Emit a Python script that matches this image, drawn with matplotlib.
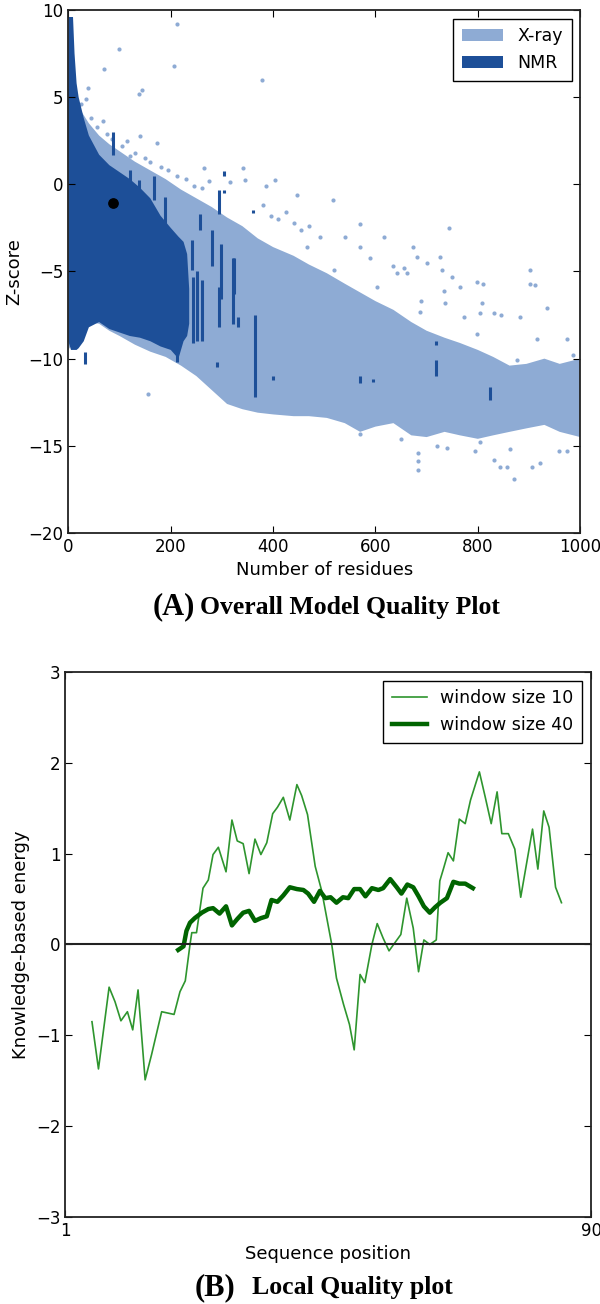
import matplotlib.pyplot as plt
import numpy as np

# ---- panel A: model quality (Z-score vs number of residues) ----
# dense X-ray cloud, read as upper / lower edges
xray_x = [0, 10, 25, 40, 60, 80, 100, 130, 160, 190, 220, 250, 280, 310, 340, 370,
          400, 440, 470, 505, 540, 570, 600, 635, 670, 700, 735, 765, 800, 830, 862,
          895, 930, 960, 1000]
xray_hi = [5.5, 5.0, 4.2, 3.5, 2.8, 2.3, 1.9, 1.3, 0.8, 0.3, -0.3, -0.8, -1.3, -1.9,
           -2.4, -3.1, -3.6, -4.1, -4.6, -5.1, -5.7, -6.2, -6.7, -7.2, -7.9, -8.4,
           -8.8, -9.1, -9.5, -9.9, -10.4, -10.3, -10.0, -10.3, -10.0]
xray_lo = [-9.5, -9.0, -8.4, -7.9, -8.0, -8.4, -8.7, -9.2, -9.6, -9.9, -10.4, -11.0,
           -11.8, -12.6, -12.9, -13.1, -13.2, -13.3, -13.3, -13.4, -13.7, -14.2, -13.9,
           -13.7, -14.4, -14.5, -14.2, -14.4, -14.6, -14.4, -14.2, -14.0, -13.8, -14.2,
           -14.5]

# scattered X-ray entries outside the dense cloud
xray_px = [213, 99, 69, 207, 379, 39, 143, 138, 35, 67, 140, 174, 120, 264, 342, 213,
           275, 315, 345, 386, 404, 446, 517, 569, 617, 674, 743, 799, 808, 831, 700,
           681, 642, 655, 726, 749, 902, 902, 911, 935, 811, 845,
           380, 395, 410, 425, 440, 455, 470, 492, 466, 518, 541, 570, 590, 603, 635,
           661, 688, 687, 730, 733, 736, 765, 772, 805, 798, 883, 915, 974, 876, 985,
           25, 45, 55, 75, 85, 105, 115, 130, 150, 160, 180, 195, 230, 245, 262,
           156, 684, 684, 684, 870, 906, 922, 844, 958, 974, 831, 857, 863, 795, 739,
           570, 805, 720, 650]
xray_pz = [9.2, 7.75, 6.6, 6.8, 6.0, 5.5, 5.4, 5.2, 4.9, 3.65, 2.8, 2.4, 1.6, 0.96,
           0.96, 0.5, 0.2, 0.15, 0.25, -0.1, 0.25, -0.6, -0.9, -2.3, -3.0, -3.6, -2.5,
           -5.6, -6.8, -7.4, -4.5, -4.15, -5.1, -4.8, -4.15, -5.3, -4.9, -5.7, -5.8,
           -7.1, -5.7, -7.5,
           -1.2, -1.8, -2.0, -1.6, -2.2, -2.6, -2.4, -3.0, -3.6, -4.9, -3.0, -3.6,
           -4.25, -5.9, -4.7, -5.1, -6.7, -7.3, -4.9, -6.1, -6.8, -5.9, -7.6, -7.4,
           -8.6, -7.6, -8.9, -8.9, -10.1, -9.8,
           4.6, 3.8, 3.3, 2.9, 2.6, 2.2, 2.5, 1.8, 1.5, 1.3, 1.0, 0.8, 0.3, -0.1, -0.2,
           -12.0, -15.4, -15.9, -16.4, -16.9, -16.2, -16.0, -16.2, -15.3, -15.3, -15.8,
           -16.2, -15.2, -15.3, -15.1, -14.3, -14.8, -15.0, -14.6]

# dense NMR cloud
nmr_x = [0, 5, 9, 12, 16, 20, 30, 40, 60, 80, 100, 120, 140, 160, 180, 200, 215, 225,
         232, 236]
nmr_hi = [9.6, 9.6, 9.6, 7.5, 5.8, 5.0, 3.8, 2.8, 1.7, 1.1, 0.7, 0.3, -0.2, -0.8,
          -1.8, -2.5, -3.0, -3.3, -4.0, -6.0]
nmr_lo = [-9.0, -9.5, -9.5, -9.5, -9.5, -9.4, -9.0, -8.2, -7.9, -8.3, -8.5, -8.7, -8.8,
          -9.0, -9.3, -9.5, -10.0, -9.0, -8.7, -8.0]

# NMR columns beyond the dense cloud: x, top, bottom
nmr_sx = [88, 120, 138, 167, 189, 257, 295, 298, 321, 212, 244, 252, 262, 241, 280,
          295, 323, 332, 365, 33, 290, 400, 569, 596, 718, 718, 823, 305, 305, 360]
nmr_st = [3.0, 0.8, 0.25, 0.5, -0.7, -1.7, -0.3, -3.4, -4.2, -6.6, -5.3, -5.0, -5.5,
          -3.2, -2.6, -5.9, -4.2, -7.6, -7.5, -9.6, -10.2, -11.0, -11.0, -11.15,
          -10.1, -9.0, -11.6, 0.75, -0.3, -1.45]
nmr_sb = [1.7, -0.1, -0.9, -0.9, -2.6, -2.6, -1.7, -6.6, -8.0, -10.2, -9.1, -9.0,
          -9.0, -4.9, -4.7, -8.2, -6.3, -8.2, -12.2, -10.3, -10.5, -11.25, -11.4,
          -11.35, -11.0, -9.2, -12.4, 0.5, -0.5, -1.65]

model_n = [88]
model_z = [-1.06]

# ---- panel B: local quality ----
w10_pos = [5.5, 6.6, 8.4, 9.4, 10.4, 11.5, 12.4, 13.3, 14.5, 15.6, 17.3, 19.4, 20.4,
           21.3, 22.1, 22.4, 23.2, 24.3, 25.2, 26.0, 26.9, 28.2, 29.2, 30.1, 31.1,
           32.1, 33.1, 34.1, 35.1, 36.1, 36.9, 37.9, 39.0, 40.2, 41.0, 42.0, 43.3,
           44.4, 46.1, 46.9, 48.1, 49.1, 49.9, 50.9, 51.7, 52.9, 53.8, 54.8, 55.8,
           56.8, 57.8, 58.8, 59.9, 60.8, 61.7, 62.7, 63.8, 64.4, 65.0, 65.8, 66.7,
           67.7, 68.7, 69.6, 71.1, 72.1, 73.1, 74.1, 74.9, 76.0, 77.1, 78.1, 80.1,
           81.0, 82.0, 82.9, 84.0, 85.0]
w10_val = [-0.85, -1.37, -0.47, -0.63, -0.84, -0.74, -0.94, -0.50, -1.49, -1.21, -0.74,
           -0.77, -0.52, -0.40, 0.00, 0.13, 0.13, 0.62, 0.71, 0.99, 1.07, 0.80, 1.37,
           1.14, 1.11, 0.78, 1.16, 0.99, 1.12, 1.44, 1.51, 1.62, 1.37, 1.76, 1.64, 1.43,
           0.86, 0.59, 0.00, -0.37, -0.66, -0.88, -1.16, -0.33, -0.42, 0.00, 0.23, 0.07,
           -0.07, 0.02, 0.11, 0.51, 0.18, -0.30, 0.05, 0.00, 0.05, 0.70, 0.83, 1.01,
           0.92, 1.38, 1.33, 1.59, 1.90, 1.62, 1.33, 1.68, 1.22, 1.22, 1.05, 0.52, 1.27,
           0.83, 1.47, 1.29, 0.63, 0.46]

w40_pos = [20.1, 21.0, 21.5, 22.1, 22.9, 24.1, 25.2, 26.0, 27.1, 28.2, 29.2, 30.1,
           31.1, 32.1, 33.1, 34.1, 35.1, 35.9, 36.9, 37.9, 39.0, 40.2, 41.3, 42.1,
           43.1, 44.1, 45.0, 45.9, 46.9, 48.0, 48.9, 49.9, 50.9, 51.8, 52.9, 54.0,
           54.8, 56.0, 57.1, 57.9, 58.9, 59.9, 60.8, 61.7, 62.7, 63.6, 64.5, 65.6,
           66.7, 67.7, 68.7, 70.0]
w40_val = [-0.06, -0.02, 0.15, 0.24, 0.29, 0.35, 0.39, 0.40, 0.34, 0.42, 0.21, 0.28,
           0.35, 0.37, 0.26, 0.29, 0.31, 0.49, 0.47, 0.54, 0.63, 0.61, 0.60, 0.56,
           0.47, 0.59, 0.51, 0.52, 0.46, 0.52, 0.51, 0.61, 0.61, 0.53, 0.62, 0.60,
           0.62, 0.72, 0.63, 0.56, 0.66, 0.63, 0.53, 0.42, 0.35, 0.41, 0.46, 0.51,
           0.69, 0.67, 0.67, 0.62]

light = '#8eabd4'
dark = '#1d4f98'

plt.rcParams['font.family'] = 'DejaVu Sans'
plt.rcParams['font.size'] = 12

fig = plt.figure(figsize=(6, 13.04), dpi=100)
ax1 = fig.add_axes([0.114, 0.5913, 0.853, 0.4010])
ax2 = fig.add_axes([0.109, 0.0667, 0.876, 0.4180])

# panel A
ax1.fill_between(xray_x, xray_lo, xray_hi, facecolor=light, linewidth=0, label='X-ray')
ax1.scatter(xray_px, xray_pz, s=9, color=light, linewidths=0)
ax1.fill_between(nmr_x, nmr_lo, nmr_hi, facecolor=dark, linewidth=0, label='NMR')
ax1.vlines(nmr_sx, nmr_sb, nmr_st, color=dark, linewidth=2.2)
ax1.scatter(model_n, model_z, s=45, color='black', zorder=5)
ax1.set_xlim(0, 1000)
ax1.set_ylim(-20, 10)
ax1.set_xticks([0, 200, 400, 600, 800, 1000])
ax1.set_yticks([-20, -15, -10, -5, 0, 5, 10])
ax1.set_xlabel('Number of residues', fontsize=13)
ax1.set_ylabel('Z-score', fontsize=13)
ax1.legend(loc='upper right', fancybox=False, edgecolor='black', framealpha=1,
           fontsize=12.5, handlelength=2.4, borderpad=0.5)

# panel B
ax2.plot(w10_pos, w10_val, color='#2e952e', linewidth=1.2, label='window size 10')
ax2.plot(w40_pos, w40_val, color='#006400', linewidth=3.2, label='window size 40')
ax2.axhline(0, color='#222222', linewidth=1.5)
ax2.set_xlim(1, 90)
ax2.set_ylim(-3, 3)
ax2.set_xticks([1, 90])
ax2.set_yticks([-3, -2, -1, 0, 1, 2, 3])
ax2.set_xlabel('Sequence position', fontsize=13)
ax2.set_ylabel('Knowledge-based energy', fontsize=13)
ax2.legend(loc='upper right', fancybox=False, edgecolor='black', framealpha=1,
           fontsize=12.5, handlelength=2.0, borderpad=0.5)

for ax in (ax1, ax2):
    ax.tick_params(direction='in', top=True, right=True, length=5, labelsize=12)
    for sp in ax.spines.values():
        sp.set_linewidth(1.3)
        sp.set_color('#222222')

serif = ['Liberation Serif', 'DejaVu Serif']
fig.text(0.325, 0.5345, '(A)', ha='right', va='center', family=serif,
         fontweight='bold', fontsize=22)
fig.text(0.333, 0.5345, 'Overall Model Quality Plot', ha='left', va='center',
         family=serif, fontweight='bold', fontsize=18.5)
fig.text(0.392, 0.0123, '(B)', ha='right', va='center', family=serif,
         fontweight='bold', fontsize=22)
fig.text(0.420, 0.0123, 'Local Quality plot', ha='left', va='center',
         family=serif, fontweight='bold', fontsize=18.5)

fig.savefig('out.png', dpi=100)
